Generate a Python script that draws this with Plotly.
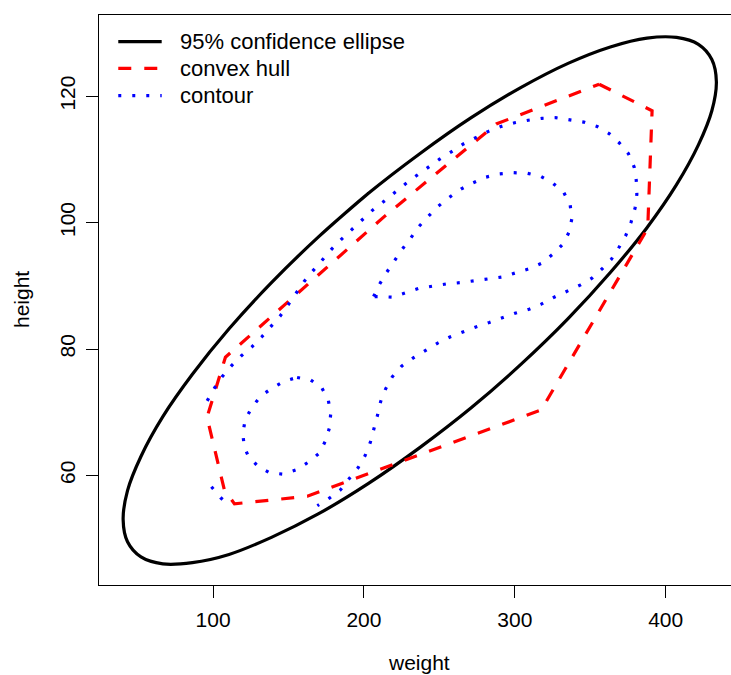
import plotly.graph_objects as go

# 95% confidence ellipse (weight, height)
ellipse_weight = [169.7, 202.8, 237.0, 271.1, 304.2, 335.3, 363.3, 387.6, 407.2, 421.7,
                  430.6, 433.6, 430.6, 421.7, 407.2, 387.6, 363.3, 335.3, 304.2, 271.1,
                  237.0, 202.8, 169.7, 138.7, 110.6, 86.3, 66.7, 52.2, 43.3, 40.4,
                  43.3, 52.2, 66.7, 86.3, 110.6, 138.7, 169.7, 202.8]
ellipse_height = [97.7, 104.6, 110.9, 116.6, 121.4, 125.2, 127.8, 129.2, 129.3, 128.2,
                  125.8, 122.3, 117.7, 112.3, 106.0, 99.2, 92.1, 84.8, 77.6, 70.7,
                  64.4, 58.7, 53.9, 50.2, 47.5, 46.2, 46.0, 47.1, 49.5, 53.0,
                  57.6, 63.0, 69.3, 76.0, 83.2, 90.5, 97.7, 104.6]

# convex hull vertices
hull_weight = [355.9, 391.0, 388.1, 317.5, 162.5, 114.2, 107.5, 96.0, 108.2, 214.2, 287.7, 355.9]
hull_height = [121.9, 117.7, 99.1, 70.35, 56.7, 55.5, 57.7, 69.2, 78.7, 101.1, 115.6, 121.9]

# density contour, outer line (open at the grid edge)
outer_weight = [96.1, 100.9, 106.0, 112.0, 118.6, 125.6, 132.2, 138.4, 144.4, 149.8,
                155.1, 160.4, 166.3, 172.3, 178.6, 185.2, 191.9, 198.5, 205.4, 212.9,
                219.9, 227.4, 234.7, 242.2, 249.9, 257.9, 265.6, 273.8, 282.2, 290.8,
                299.8, 308.9, 318.0, 327.2, 336.5, 345.8, 354.6, 362.5, 369.3, 375.3,
                379.1, 380.5, 380.9, 379.7, 377.1, 373.6, 369.1, 364.0, 357.9, 351.1,
                343.3, 334.7, 326.1, 317.5, 309.5, 300.7, 291.7, 283.1, 274.2, 265.4,
                257.0, 248.6, 240.5, 232.7, 225.0, 218.8, 214.4, 211.1, 209.1, 206.7,
                204.2, 200.7, 196.1, 190.3, 184.4, 177.1, 169.1]
outer_height = [71.8, 73.8, 75.6, 77.3, 78.9, 80.3, 81.9, 83.5, 85.2, 87.0,
                88.8, 90.7, 92.4, 94.1, 95.8, 97.4, 98.9, 100.4, 101.9, 103.3,
                104.7, 106.1, 107.4, 108.7, 110.0, 111.2, 112.4, 113.4, 114.4, 115.2,
                115.8, 116.2, 116.5, 116.6, 116.3, 115.9, 115.2, 114.1, 112.6, 110.9,
                108.8, 106.7, 104.5, 102.3, 100.1, 98.0, 96.1, 94.2, 92.7, 91.2,
                90.1, 89.2, 88.2, 87.1, 86.3, 85.7, 85.0, 84.2, 83.5, 82.7,
                81.9, 80.9, 79.8, 78.6, 77.3, 75.6, 73.7, 71.7, 69.6, 67.3,
                65.2, 63.1, 61.2, 59.5, 57.7, 56.4, 55.2]

# short piece of the outer line in the bottom-left corner
corner_weight = [98.9, 104.9, 111.7]
corner_height = [58.2, 56.5, 55.0]

# small closed contour, lower left
low_weight = [155.7, 164.7, 172.0, 176.4, 178.0, 177.1, 174.6, 170.3, 163.2, 155.4, 146.6,
              137.6, 129.9, 123.5, 120.8, 119.7, 121.3, 125.6, 131.4, 138.9, 147.1, 155.7]
low_height = [75.5, 75.1, 73.9, 71.9, 69.8, 67.5, 65.5, 63.5, 62.1, 60.9, 60.2,
              60.4, 61.4, 63.0, 64.4, 66.6, 68.8, 70.7, 72.5, 73.8, 74.9, 75.5]

# closed contour, upper right (teardrop)
high_weight = [206.4, 210.2, 215.0, 220.1, 225.4, 231.2, 236.5, 242.7, 249.3, 256.6,
               264.3, 272.3, 280.9, 289.9, 299.1, 308.4, 317.3, 325.4, 332.4, 336.7,
               337.8, 336.0, 331.9, 325.2, 318.0, 309.5, 300.7, 291.7, 282.4, 273.7,
               264.0, 254.8, 245.5, 236.5, 227.6, 218.8, 209.5, 206.4]
high_height = [88.3, 90.2, 92.1, 94.0, 95.8, 97.6, 99.4, 101.0, 102.6, 104.0,
               105.3, 106.3, 107.2, 107.7, 107.9, 107.8, 107.3, 106.2, 104.8, 102.8,
               100.6, 98.5, 96.6, 95.0, 93.6, 92.7, 92.0, 91.4, 91.1, 90.8,
               90.5, 90.3, 90.0, 89.6, 88.9, 88.2, 88.3, 88.3]

weight_ticks = [100, 200, 300, 400]
height_ticks = [60, 80, 100, 120]
legend_labels = ["95% confidence ellipse", "convex hull", "contour"]

FONT = "Liberation Sans, Arial, Helvetica, sans-serif"
DASH = "13px,13px"
DOT = "3px,11px"

fig = go.Figure()

fig.add_trace(go.Scatter(x=ellipse_weight, y=ellipse_height, mode="lines",
                         line=dict(color="black", width=3.2, shape="spline"),
                         name=legend_labels[0], hoverinfo="skip"))
fig.add_trace(go.Scatter(x=hull_weight, y=hull_height, mode="lines",
                         line=dict(color="red", width=3.2, dash=DASH),
                         name=legend_labels[1], hoverinfo="skip"))
for cw, ch in [(outer_weight, outer_height), (corner_weight, corner_height),
               (low_weight, low_height), (high_weight, high_height)]:
    fig.add_trace(go.Scatter(x=cw, y=ch, mode="lines",
                             line=dict(color="blue", width=3.2, dash=DOT),
                             name=legend_labels[2], hoverinfo="skip"))

# legend drawn by hand (R style, no box)
legend_styles = [("black", "solid"), ("red", DASH), ("blue", DOT)]
legend_rows = [0.9532, 0.9065, 0.8584]
shapes = []
annotations = []
for (col, dash), yy, lab in zip(legend_styles, legend_rows, legend_labels):
    shapes.append(dict(type="line", xref="paper", yref="paper",
                       x0=0.0305, x1=0.0992, y0=yy, y1=yy,
                       line=dict(color=col, width=3.2, dash=dash)))
    annotations.append(dict(text=lab, xref="paper", yref="paper", x=0.1245, y=yy,
                            xanchor="left", yanchor="middle", showarrow=False,
                            font=dict(family=FONT, size=22, color="black")))

# axis titles
annotations.append(dict(text="weight", xref="paper", yref="paper", x=0.5063, y=-0.1351,
                        xanchor="center", yanchor="middle", showarrow=False,
                        font=dict(family=FONT, size=21, color="black")))
annotations.append(dict(text="height", xref="paper", yref="paper", x=-0.1234, y=0.5,
                        xanchor="center", yanchor="middle", showarrow=False, textangle=-90,
                        font=dict(family=FONT, size=21, color="black")))

fig.update_layout(
    width=731, height=675,
    margin=dict(l=99, r=0, t=15, b=90),
    plot_bgcolor="white", paper_bgcolor="white",
    showlegend=False,
    font=dict(family=FONT, size=21, color="black"),
    shapes=shapes, annotations=annotations,
)

fig.update_xaxes(range=[24.4, 443.3], tickvals=weight_ticks, ticks="outside",
                 ticklen=12, tickwidth=1, tickcolor="black",
                 showline=True, linecolor="black", linewidth=1, mirror=True,
                 showgrid=False, zeroline=False, automargin=False,
                 ticklabelstandoff=4)
fig.update_yaxes(range=[42.66, 132.85], tickvals=height_ticks, ticks="outside",
                 ticklen=12, tickwidth=1, tickcolor="black", tickangle=-90,
                 showline=True, linecolor="black", linewidth=1,
                 showgrid=False, zeroline=False, automargin=False,
                 ticklabelstandoff=3)

# drop the browser's default 8px body margin so the figure fills the window,
# and hide the mode bar
fig.write_html("out.html", config={"displayModeBar": False},
               post_script="document.body.style.margin = '0px';")
